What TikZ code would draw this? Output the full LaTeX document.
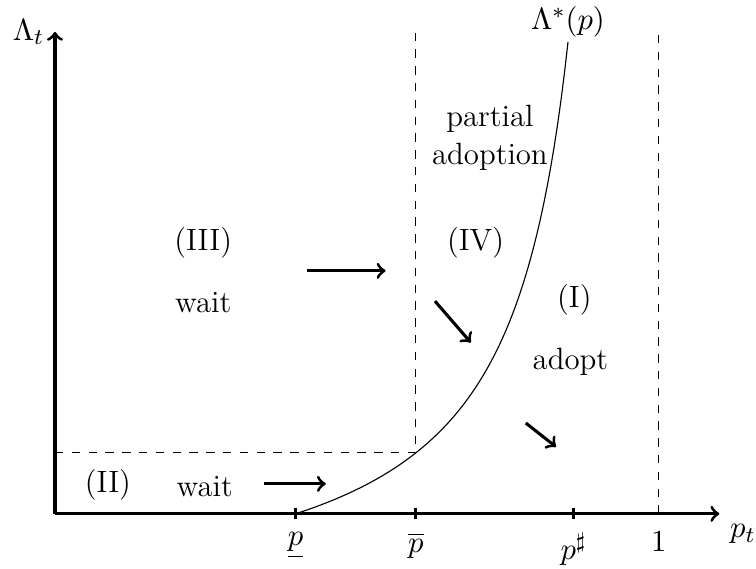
\documentclass[tikz,border=0pt]{standalone}
\usepackage{amsmath,amssymb}
\usepackage{tikz}
\usepackage{xcolor}

\tikzset{
  axis/.style={line width=1.1pt,->},
  flow/.style={line width=1.1pt,->},
  tick/.style={line width=1.1pt},
  region/.style={align=center,inner sep=0pt}
}

\begin{document}
\begin{tikzpicture}[x=1cm,y=1cm,every node/.style={font=\fontsize{11}{13.6}\selectfont}]
\useasboundingbox (-0.69,-0.69) rectangle (8.80,6.45);
% axes
\coordinate (O) at (0,0);
\coordinate (xend) at (8.34,0);
\coordinate (yend) at (0,6.05);
\draw[axis] (O)--(xend) node[below right] (pt) {$p_t$};
\draw[axis] (O)--(yend) node[left] (lt) {$\Lambda_t$};
% ticks
\coordinate (plow) at (3.02,0);
\coordinate (pbar) at (4.53,0);
\coordinate (psharp) at (6.51,0);
\coordinate (pone) at (7.58,0);
\draw[tick] (3.02,-0.07)--(3.02,0.07) node[below=0.17cm] (lplow) {$\underline{p}$};
\draw[tick] (4.53,-0.07)--(4.53,0.07) node[below=0.17cm] (lpbar) {$\overline{p}$};
\draw[tick] (6.51,-0.07)--(6.51,0.07) node[below=0.17cm] (lpsharp) {$p^\sharp$};
\node[below=0.1cm] (lpone) at (pone) {$1$};
% dashed guides
\coordinate (kink) at (4.53,0.765);
\draw[dashed] (0,0.765)--(kink)--(4.53,6.05);
\draw[dashed] (pone)--(7.58,6.05);
% threshold curve
\draw[domain=3.02:6.44,samples=80] plot (\x,{1.368*(\x-3.02)/(7.23-\x)}) node[above,inner sep=1.5pt] (lstar) {$\Lambda^*(p)$};
% regions
\node[region] (r3) at (1.86,3.40) {(III)};
\node[region] (w3) at (1.86,2.65) {wait};
\node[region] (r4) at (5.28,3.40) {(IV)};
\node[region] (pa) at (5.46,4.72) {partial\\adoption};
\node[region] (r1) at (6.52,2.69) {(I)};
\node[region] (ad) at (6.47,1.91) {adopt};
\node[region] (r2) at (0.665,0.36) {(II)};
\node[region] (w2) at (1.88,0.34) {wait};
% flows
\draw[flow] (3.17,3.05)--(4.15,3.05);
\draw[flow] (4.77,2.67)--(5.22,2.15);
\draw[flow] (5.91,1.14)--(6.29,0.84);
\draw[flow] (2.63,0.376)--(3.40,0.376);
\end{tikzpicture}
\end{document}
